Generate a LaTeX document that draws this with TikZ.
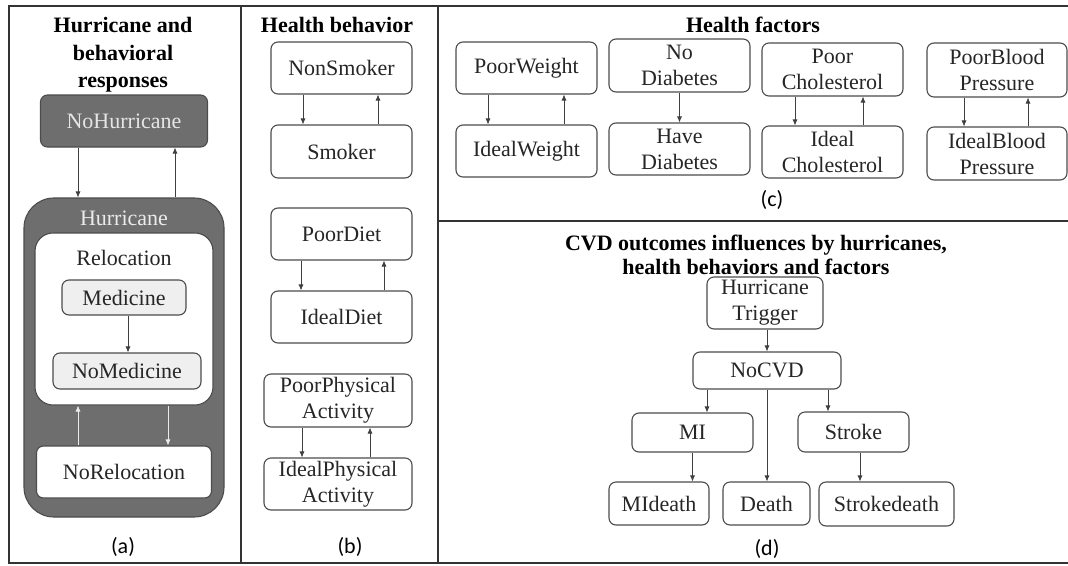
\documentclass[tikz,border=0pt]{standalone}
\usepackage{fontspec}
\setmainfont{Liberation Serif}
\newfontfamily\boxfont{Liberation Serif}
\newfontfamily\capfont{Carlito}
\usetikzlibrary{arrows.meta}

\definecolor{hurgray}{HTML}{6E6E6E}
\definecolor{medgray}{HTML}{EFEFEF}

\begin{document}
\begin{tikzpicture}[x=1pt,y=-1pt,
    box/.style={draw=black!70,line width=1.1pt,rounded corners=7pt,fill=white,inner sep=0pt,
      align=center,text=black!85,font=\boxfont\fontsize{22}{26}\selectfont},
    arr/.style={-{Latex[length=6pt,width=5pt]},black!75,line width=0.7pt},
    warr/.style={arr,white!92!black},
    ttl/.style={font=\boxfont\fontsize{22}{27.5}\bfseries\selectfont,align=center,inner sep=0pt},
    panellbl/.style={font=\capfont\fontsize{22}{26}\selectfont,inner sep=0pt},
    frame/.style={black!80,line width=1.4pt}]

    \useasboundingbox (0,0) rectangle (1068,565);

    % frame and panel borders
    \draw[frame] (1068,6) -- (9,6) -- (9,563) -- (1068,563);
    \draw[frame] (241,6) -- (241,563);
    \draw[frame] (438,6) -- (438,563);
    \draw[frame] (438,221) -- (1068,221);

    % (a) hurricane and behavioral responses
    \node[ttl] (ttla) at (123,55) {Hurricane and\\behavioral\\responses};
    \node[box,fill=hurgray,text=white!90!black,minimum width=167pt,minimum height=52pt] (nohur) at (124,121) {NoHurricane};
    \node[box,fill=hurgray,rounded corners=30pt,minimum width=200pt,minimum height=319pt] (hur) at (124,357.5) {};
    \node[text=white!92!black,font=\boxfont\fontsize{22}{26}\selectfont,inner sep=0pt] (hurtxt) at (124,218) {Hurricane};
    \node[box,rounded corners=18pt,minimum width=178pt,minimum height=172pt] (reloc) at (124,319) {};
    \node[font=\boxfont\fontsize{22}{26}\selectfont,text=black!85,inner sep=0pt] (reloctxt) at (124,258) {Relocation};
    \node[box,fill=medgray,minimum width=124pt,minimum height=35pt] (med) at (124,297.5) {Medicine};
    \node[box,fill=medgray,minimum width=148pt,minimum height=36pt] (nomed) at (127,371) {NoMedicine};
    \node[box,minimum width=175pt,minimum height=52pt] (noreloc) at (124,472) {NoRelocation};
    \draw[arr] ([xshift=-46pt]nohur.south) -- ([xshift=-46pt]nohur.south |- hur.north);
    \draw[arr] ([xshift=51pt]hur.north) -- ([xshift=51pt]hur.north |- nohur.south);
    \draw[arr] ([xshift=4pt]med.south) -- ([xshift=4pt]med.south |- nomed.north);
    \draw[warr] ([xshift=44pt]reloc.south) -- ([xshift=44pt]reloc.south |- noreloc.north);
    \draw[warr] ([xshift=-46pt]noreloc.north) -- ([xshift=-46pt]noreloc.north |- reloc.south);
    \node[panellbl] (capa) at (123,547) {(a)};

    % (b) health behavior
    \node[ttl] (ttlb) at (337,25) {Health behavior};
    \node[box,minimum width=141pt,minimum height=52pt] (nonsmk) at (341.5,68) {NonSmoker};
    \node[box,minimum width=141pt,minimum height=53pt] (smk) at (341.5,151.5) {Smoker};
    \node[box,minimum width=141pt,minimum height=52pt] (poordiet) at (341.5,234) {PoorDiet};
    \node[box,minimum width=141pt,minimum height=52pt] (idealdiet) at (341.5,317) {IdealDiet};
    \node[box,minimum width=148pt,minimum height=53pt] (poorpa) at (338,400.5) {PoorPhysical\\Activity};
    \node[box,minimum width=148pt,minimum height=52pt] (idealpa) at (338,484) {IdealPhysical\\Activity};
    \draw[arr] ([xshift=-38.5pt]nonsmk.south) -- ([xshift=-38.5pt]nonsmk.south |- smk.north);
    \draw[arr] ([xshift=36.5pt]smk.north) -- ([xshift=36.5pt]smk.north |- nonsmk.south);
    \draw[arr] ([xshift=-40.5pt]poordiet.south) -- ([xshift=-40.5pt]poordiet.south |- idealdiet.north);
    \draw[arr] ([xshift=42.5pt]idealdiet.north) -- ([xshift=42.5pt]idealdiet.north |- poordiet.south);
    \draw[arr] ([xshift=-36pt]poorpa.south) -- ([xshift=-36pt]poorpa.south |- idealpa.north);
    \draw[arr] ([xshift=32pt]idealpa.north) -- ([xshift=32pt]idealpa.north |- poorpa.south);
    \node[panellbl] (capb) at (350,547) {(b)};

    % (c) health factors
    \node[ttl] (ttlc) at (753,25) {Health factors};
    \node[box,minimum width=141pt,minimum height=52pt] (poorw) at (526.5,68) {PoorWeight};
    \node[box,minimum width=141pt,minimum height=52pt] (idealw) at (526.5,151) {IdealWeight};
    \node[box,minimum width=141pt,minimum height=53pt] (nodiab) at (679.5,65.5) {No\\Diabetes};
    \node[box,minimum width=141pt,minimum height=52pt] (havediab) at (679.5,149) {Have\\Diabetes};
    \node[box,minimum width=141pt,minimum height=53pt] (poorchol) at (832.5,69.5) {Poor\\Cholesterol};
    \node[box,minimum width=141pt,minimum height=52pt] (idealchol) at (832.5,152) {Ideal\\Cholesterol};
    \node[box,minimum width=140pt,minimum height=54pt] (poorbp) at (997,70) {PoorBlood\\Pressure};
    \node[box,minimum width=140pt,minimum height=53pt] (idealbp) at (997,153.5) {IdealBlood\\Pressure};
    \draw[arr] ([xshift=-38.5pt]poorw.south) -- ([xshift=-38.5pt]poorw.south |- idealw.north);
    \draw[arr] ([xshift=37.5pt]idealw.north) -- ([xshift=37.5pt]idealw.north |- poorw.south);
    \draw[arr] (nodiab.south) -- (nodiab.south |- havediab.north);
    \draw[arr] ([xshift=-37.5pt]poorchol.south) -- ([xshift=-37.5pt]poorchol.south |- idealchol.north);
    \draw[arr] ([xshift=30.5pt]idealchol.north) -- ([xshift=30.5pt]idealchol.north |- poorchol.south);
    \draw[arr] ([xshift=-33pt]poorbp.south) -- ([xshift=-33pt]poorbp.south |- idealbp.north);
    \draw[arr] ([xshift=31pt]idealbp.north) -- ([xshift=31pt]idealbp.north |- poorbp.south);
    \node[panellbl] (capc) at (772,200) {(c)};

    % (d) CVD outcomes
    \node[ttl,font=\boxfont\fontsize{22}{24}\bfseries\selectfont] (ttld) at (756,255) {CVD outcomes influences by hurricanes,\\health behaviors and factors};
    \node[box,minimum width=116pt,minimum height=52pt] (trig) at (765,303) {Hurricane\\Trigger};
    \node[box,minimum width=148pt,minimum height=37pt] (nocvd) at (767,370.5) {NoCVD};
    \node[box,minimum width=121pt,minimum height=39pt] (mi) at (692.5,432.5) {MI};
    \node[box,minimum width=111pt,minimum height=40pt] (stroke) at (853.5,432) {Stroke};
    \node[box,minimum width=100pt,minimum height=43pt] (mideath) at (659,503.5) {MIdeath};
    \node[box,minimum width=87pt,minimum height=43pt] (death) at (766.5,503.5) {Death};
    \node[box,minimum width=135pt,minimum height=44pt] (strokedeath) at (886.5,504) {Strokedeath};
    \draw[arr] ([xshift=2pt]trig.south) -- ([xshift=2pt]trig.south |- nocvd.north);
    \draw[arr] ([xshift=-60pt]nocvd.south) -- ([xshift=-60pt]nocvd.south |- mi.north);
    \draw[arr] (nocvd.south) -- (nocvd.south |- death.north);
    \draw[arr] ([xshift=61pt]nocvd.south) -- ([xshift=61pt]nocvd.south |- stroke.north);
    \draw[arr] (mi.south) -- (mi.south |- mideath.north);
    \draw[arr] ([xshift=6.5pt]stroke.south) -- ([xshift=6.5pt]stroke.south |- strokedeath.north);
    \node[panellbl] (capd) at (767,549) {(d)};
\end{tikzpicture}
\end{document}
